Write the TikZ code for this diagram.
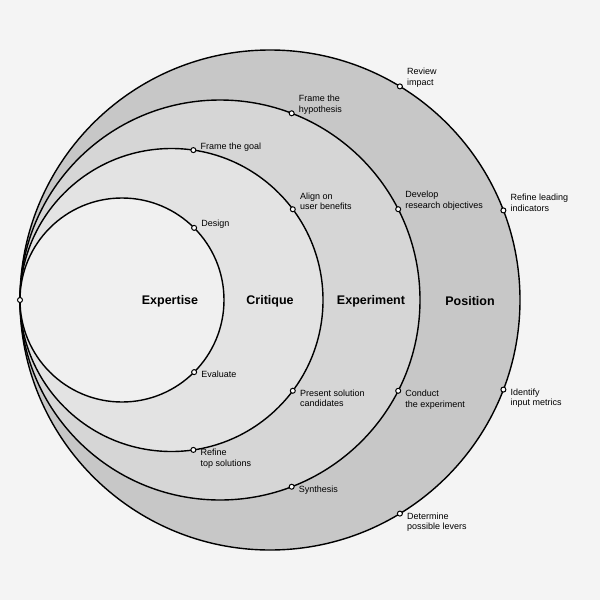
\documentclass[tikz,border=0pt]{standalone}
\usepackage{fontspec}
\setmainfont{Liberation Sans}
\usetikzlibrary{calc}
\begin{document}
\begin{tikzpicture}[x=1pt,y=-1pt,
  ring/.style={draw=black,line width=1.4pt},
  dot/.style={circle,draw=black,fill=white,line width=1pt,inner sep=0pt,minimum size=5pt},
  up/.style={anchor=south west,font=\fontsize{9}{10.5}\selectfont,align=left,inner sep=0pt,xshift=7pt,yshift=-1pt},
  dn/.style={anchor=north west,font=\fontsize{9}{10.5}\selectfont,align=left,inner sep=0pt,xshift=7pt,yshift=1pt},
  big/.style={font=\bfseries\fontsize{12.5}{14}\selectfont}]
\fill[gray!9] (0,0) rectangle (600,600);
\useasboundingbox (0,0) rectangle (600,600);
\draw[ring,fill=black!22] (270,300) circle (250);
\draw[ring,fill=black!16] (220,300) circle (200);
\draw[ring,fill=black!11] (171.5,300) circle (151.5);
\draw[ring,fill=black!6] (122,300) circle (102);
\node[big] (e1) at (170,301) {Expertise};
\node[big] (e2) at (270,301) {Critique};
\node[big] (e3) at (371,301) {Experiment};
\node[big] (e4) at (470,301) {Position};
\node[dot] (L) at (20,300) {};
% inner
\node[dot] (a1) at ($(122,300)+(-45:102)$) {};
\path (a1) node[up] {Design};
\node[dot] (a2) at ($(122,300)+(45:102)$) {};
\path (a2) node[dn] {Evaluate};
% second
\node[dot] (b1) at ($(171.5,300)+(-81.7:151.5)$) {};
\path (b1) node[up] {Frame the goal};
\node[dot] (b2) at ($(171.5,300)+(-36.8:151.5)$) {};
\path (b2) node[up] {Align on\\user benefits};
\node[dot] (b3) at ($(171.5,300)+(36.8:151.5)$) {};
\path (b3) node[dn] {Present solution\\candidates};
\node[dot] (b4) at ($(171.5,300)+(81.7:151.5)$) {};
\path (b4) node[dn] {Refine\\top solutions};
% third
\node[dot] (c1) at ($(220,300)+(-69:200)$) {};
\path (c1) node[up] {Frame the\\hypothesis};
\node[dot] (c2) at ($(220,300)+(-27:200)$) {};
\path (c2) node[up] {Develop\\research objectives};
\node[dot] (c3) at ($(220,300)+(27:200)$) {};
\path (c3) node[dn] {Conduct\\the experiment};
\node[dot] (c4) at ($(220,300)+(69:200)$) {};
\path (c4) node[dn] {Synthesis};
% outer
\node[dot] (d1) at ($(270,300)+(-58.7:250)$) {};
\path (d1) node[up] {Review\\impact};
\node[dot] (d2) at ($(270,300)+(-21:250)$) {};
\path (d2) node[up] {Refine leading\\indicators};
\node[dot] (d3) at ($(270,300)+(21:250)$) {};
\path (d3) node[dn] {Identify\\input metrics};
\node[dot] (d4) at ($(270,300)+(58.7:250)$) {};
\path (d4) node[dn] {Determine\\possible levers};
\end{tikzpicture}
\end{document}
